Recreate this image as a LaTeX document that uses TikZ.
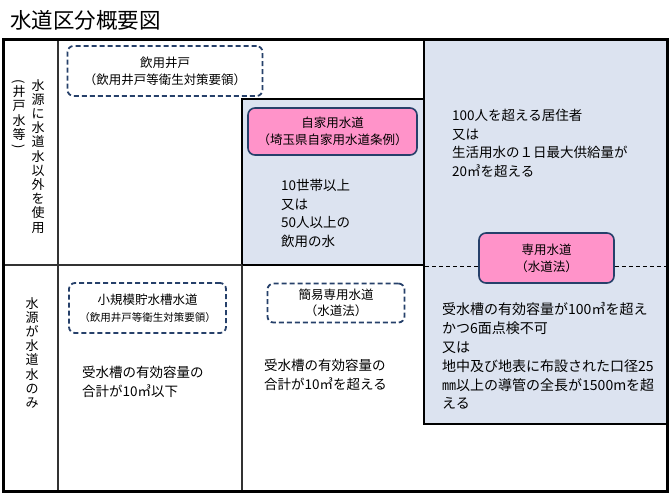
\documentclass[tikz,border=0pt]{standalone}
\usepackage{fontspec}
\setmainfont{Noto Sans CJK JP}
\usepackage{tikz}
\usetikzlibrary{calc, positioning}
\definecolor{areablue}{HTML}{DCE3F0}
\definecolor{lawpink}{HTML}{FF93C9}
\definecolor{boxnavy}{HTML}{26406A}
\newcommand{\jsize}[2]{\fontsize{#1}{#2}\selectfont}
\newcommand{\vparen}[1]{\rotatebox[origin=c]{-90}{#1}}

\begin{document}
\begin{tikzpicture}[x=1pt, y=-1pt,
    area/.style={fill=areablue, draw=black, line width=2.4pt},
    rule/.style={draw=black!80, line width=1.1pt},
    dashbox/.style={draw=boxnavy, line width=1.8pt, dash pattern=on 5pt off 3pt, rounded corners=6pt, align=center, font=\jsize{12.5}{17}},
    pinkbox/.style={draw=boxnavy, fill=lawpink, line width=1.6pt, rounded corners=7pt, align=center, font=\jsize{12.5}{17}},
    note/.style={anchor=north west, inner sep=0pt, align=left, font=\jsize{13.5}{18.5}},
    vtext/.style={anchor=north, inner sep=0pt, align=center, font=\jsize{13}{14.2}},
    guide/.style={dash pattern=on 4pt off 3pt, line width=0.8pt}
]
\useasboundingbox (0,0) rectangle (670,495);
\node[anchor=west, inner sep=0pt, font=\jsize{21.5}{24}] (title) at (10,20) {水道区分概要図};

% areas and rules
\draw[area] (424,40) rectangle (667,424);
\draw[area] (242,99) rectangle (424,265);
\draw[rule] (58,40) -- (58,491);
\draw[rule] (3,265) -- (242,265);
\draw[rule] (242,265) -- (242,491);
\draw[line width=3pt] (3,40) rectangle (667,491);

% row headings
\node[vtext] (srcother) at (38,79) {水\\源\\に\\水\\道\\水\\以\\外\\を\\使\\用};
\node[vtext] (wellnote) at (19,79) {\vparen{(}\\[-3pt]井\\戸\\水\\等\\[-3pt]\vparen{)}};
\node[vtext] (srconly) at (32,297) {水\\源\\が\\水\\道\\水\\の\\み};

% boxes
\node[dashbox, minimum width=195pt, minimum height=50pt] (well) at (165,71) {飲用井戸\\（飲用井戸等衛生対策要領）};
\node[pinkbox, minimum width=169pt, minimum height=47pt] (private) at (332.5,131.5) {自家用水道\\（埼玉県自家用水道条例）};
\node[pinkbox, minimum width=135pt, minimum height=50pt] (senyo) at (546.5,258) {専用水道\\（水道法）};
\node[dashbox, minimum width=157pt, minimum height=50pt] (smalltank) at (147.5,308) {小規模貯水槽水道\\{\jsize{10.5}{14}（飲用井戸等衛生対策要領）}};
\node[dashbox, minimum width=137pt, minimum height=39pt, font=\jsize{12.5}{15.5}] (kani) at (336,303) {簡易専用水道\\（水道法）};

\coordinate (dl) at (425,266);
\coordinate (dr) at (666,266);
\draw[guide] (dl) -- (dl -| senyo.west);
\draw[guide] (dr -| senyo.east) -- (dr);

% conditions
\node[note] (privatecond) at (281,179) {10世帯以上\\又は\\50人以上の\\飲用の水};
\node[note] (senyocond) at (452,109) {100人を超える居住者\\又は\\生活用水の１日最大供給量が\\20㎥を超える};
\node[note, font=\jsize{14}{18.9}] (tankcond) at (442,302) {受水槽の有効容量が100㎥を超え\\かつ6面点検不可\\又は\\地中及び地表に布設された口径25\\㎜以上の導管の全長が1500mを超\\える};
\node[note] (smallcond) at (82,366) {受水槽の有効容量の\\合計が10㎥以下};
\node[note] (kanicond) at (264,359) {受水槽の有効容量の\\合計が10㎥を超える};
\end{tikzpicture}
\end{document}
